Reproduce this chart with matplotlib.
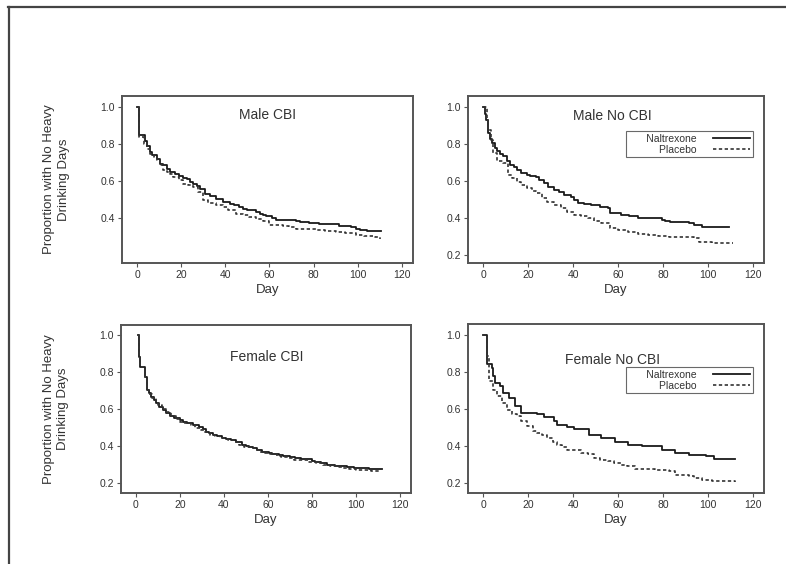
import matplotlib
matplotlib.use("Agg")
import matplotlib.pyplot as plt
from matplotlib.lines import Line2D

plt.rcParams['font.family'] = ['Liberation Sans', 'DejaVu Sans']

# Kaplan-Meier style step curves: (day, proportion) pairs
male_cbi_nal_day = [0, 1, 3.6, 4.5, 5.8, 7, 8.9, 10.4, 11.8, 13.5, 14.9, 17, 19, 20.9, 22.5, 23.9, 25.4, 27, 28.5,
                    30.7, 33, 35.9, 38.9, 41.9, 44, 46, 48, 50, 52, 54, 55.5, 57, 58.5, 61, 63, 72, 74, 78, 82.5,
                    86, 91.6, 94, 97, 99, 101, 104, 110.4]
male_cbi_nal_val = [1.0, 0.85, 0.82, 0.79, 0.758, 0.74, 0.723, 0.696, 0.686, 0.668, 0.65, 0.638, 0.628, 0.62, 0.61,
                    0.596, 0.587, 0.575, 0.56, 0.533, 0.52, 0.507, 0.488, 0.48, 0.47, 0.46, 0.452, 0.447, 0.443,
                    0.435, 0.425, 0.42, 0.413, 0.403, 0.393, 0.386, 0.38, 0.376, 0.371, 0.368, 0.362, 0.358, 0.352,
                    0.344, 0.34, 0.335, 0.335]
male_cbi_pla_day = [0, 1, 3, 4.5, 5.8, 7.5, 8.9, 10.5, 11.9, 13.5, 14.8, 16.5, 19, 20.9, 23, 25.4, 27.5, 29.9, 32,
                    35.9, 38.9, 41, 44.9, 48, 50.9, 54, 57, 60, 66, 69, 72, 76, 81, 85, 90, 94, 99, 103, 108, 110]
male_cbi_pla_val = [1.0, 0.84, 0.80, 0.775, 0.75, 0.73, 0.715, 0.69, 0.66, 0.65, 0.641, 0.625, 0.605, 0.588, 0.578,
                    0.569, 0.54, 0.497, 0.485, 0.47, 0.461, 0.445, 0.425, 0.416, 0.407, 0.397, 0.389, 0.366, 0.362,
                    0.353, 0.344, 0.342, 0.339, 0.333, 0.326, 0.32, 0.313, 0.306, 0.299, 0.292]

male_no_nal_day = [0, 0.75, 1.2, 2.25, 3, 3.75, 5, 6, 7.5, 9, 10.5, 12, 13.5, 15, 17, 19.5, 21, 23.3, 25, 27, 29,
                   31.5, 33.5, 36, 39, 40.5, 42, 45, 48, 52, 55.5, 56.3, 59, 61.5, 65, 69, 79.5, 81, 83.3, 88,
                   91.5, 94, 97.5, 100.5, 109.5]
male_no_nal_val = [1.0, 0.96, 0.93, 0.86, 0.83, 0.805, 0.78, 0.76, 0.745, 0.733, 0.71, 0.688, 0.675, 0.66, 0.645,
                   0.633, 0.628, 0.62, 0.605, 0.588, 0.57, 0.552, 0.54, 0.525, 0.512, 0.498, 0.48, 0.476, 0.471,
                   0.462, 0.453, 0.43, 0.425, 0.417, 0.41, 0.399, 0.392, 0.386, 0.38, 0.376, 0.372, 0.365, 0.354,
                   0.35, 0.35]
male_no_pla_day = [0, 1.5, 2.25, 3.3, 4.5, 6, 9, 10.8, 13, 15, 17, 19.5, 21.5, 23.3, 26, 28.5, 31.5, 34.5, 37.5,
                   40.5, 43.5, 46.5, 49.5, 52.5, 56.3, 60, 64.5, 69, 73.5, 78, 82.5, 88, 93.8, 96, 102, 111]
male_no_pla_val = [1.0, 0.93, 0.877, 0.823, 0.75, 0.706, 0.697, 0.633, 0.615, 0.597, 0.58, 0.561, 0.548, 0.534,
                   0.51, 0.489, 0.47, 0.453, 0.435, 0.417, 0.41, 0.399, 0.385, 0.372, 0.344, 0.335, 0.326, 0.316,
                   0.308, 0.304, 0.30, 0.295, 0.29, 0.272, 0.267, 0.267]

female_cbi_nal_day = [1, 1.5, 1.8, 4, 4.8, 6, 7, 8.3, 9.3, 10.5, 12.3, 13.5, 15.3, 17.5, 19.8, 21.3, 23, 24.3, 26,
                      28.8, 30.3, 32, 33.3, 35, 37, 39.3, 41, 43, 45.3, 48.3, 50, 51.3, 53, 55, 57.3, 60.3, 62,
                      64.8, 67, 70, 72.3, 75, 79.8, 81.3, 84.3, 87, 90.3, 93, 96, 99.3, 102.3, 106, 112]
female_cbi_nal_val = [1.0, 0.883, 0.826, 0.775, 0.703, 0.685, 0.667, 0.648, 0.631, 0.613, 0.595, 0.578, 0.563,
                      0.552, 0.541, 0.531, 0.527, 0.523, 0.515, 0.505, 0.49, 0.478, 0.469, 0.462, 0.455, 0.444,
                      0.44, 0.432, 0.424, 0.405, 0.4, 0.397, 0.388, 0.38, 0.37, 0.362, 0.358, 0.352, 0.345, 0.34,
                      0.334, 0.328, 0.32, 0.315, 0.308, 0.3, 0.293, 0.29, 0.288, 0.283, 0.28, 0.275, 0.275]
female_cbi_pla_day = [1, 1.5, 1.8, 4, 4.8, 6, 7.5, 9, 10, 12, 13.8, 15.8, 18, 20, 22, 24.8, 27, 29.5, 31, 33.8,
                      36, 38, 40, 42, 44.5, 47, 49, 52, 54, 56, 58.5, 61, 64, 66, 69, 72, 75, 78, 82, 85, 88, 91,
                      94, 97, 100, 103, 107, 111]
female_cbi_pla_val = [1.0, 0.883, 0.826, 0.775, 0.703, 0.683, 0.66, 0.64, 0.622, 0.6, 0.583, 0.56, 0.546, 0.532,
                      0.522, 0.513, 0.5, 0.487, 0.478, 0.462, 0.452, 0.445, 0.436, 0.43, 0.42, 0.408, 0.396, 0.388,
                      0.378, 0.37, 0.362, 0.355, 0.348, 0.342, 0.334, 0.326, 0.322, 0.315, 0.307, 0.3, 0.292,
                      0.284, 0.28, 0.275, 0.272, 0.268, 0.265, 0.263]

female_no_nal_day = [0, 1.5, 3.75, 4.5, 5.25, 7.5, 9, 11.25, 14.25, 17, 24, 27, 31.5, 33, 37.5, 40.5, 47.3, 52.5,
                     58.5, 64.5, 70.5, 79.5, 85.5, 91.5, 99, 102.8, 112]
female_no_nal_val = [1.0, 0.845, 0.823, 0.778, 0.742, 0.724, 0.688, 0.66, 0.615, 0.579, 0.576, 0.56, 0.534, 0.516,
                     0.503, 0.492, 0.462, 0.444, 0.42, 0.408, 0.399, 0.381, 0.363, 0.354, 0.345, 0.33, 0.33]
female_no_pla_day = [0, 1.5, 2.5, 4.5, 6, 8.25, 10.5, 13, 15, 17, 19.5, 22, 24, 26, 28.5, 31, 33, 35, 37.5, 43.5,
                     46.5, 49.5, 52, 55.5, 58, 61.5, 64, 67.5, 76.5, 82.5, 85.5, 91.5, 94, 97.5, 102, 112]
female_no_pla_val = [1.0, 0.886, 0.751, 0.706, 0.67, 0.633, 0.597, 0.575, 0.561, 0.535, 0.507, 0.48, 0.471, 0.462,
                     0.444, 0.425, 0.408, 0.395, 0.381, 0.363, 0.359, 0.335, 0.326, 0.317, 0.31, 0.299, 0.29,
                     0.276, 0.269, 0.263, 0.242, 0.236, 0.228, 0.218, 0.209, 0.205]

panel_titles = ["Male CBI", "Male No CBI", "Female CBI", "Female No CBI"]
series_labels = ["      Naltrexone", "        Placebo"]
x_ticks = [0, 20, 40, 60, 80, 100, 120]
y_ticks_full = [0.2, 0.4, 0.6, 0.8, 1.0]
y_ticks_short = [0.4, 0.6, 0.8, 1.0]
ylabel_text = "Proportion with No Heavy\nDrinking Days"

fig = plt.figure(figsize=(7.86, 5.64), dpi=100)

W, H = 786, 564


def place(x0, y_top, x1, y_bot):
    return [x0 / W, 1 - y_bot / H, (x1 - x0) / W, (y_bot - y_top) / H]


panels = [
    dict(rect=place(122, 96, 413, 263), ylim=(0.16, 1.06), yticks=y_ticks_short,
         nal=(male_cbi_nal_day, male_cbi_nal_val), pla=(male_cbi_pla_day, male_cbi_pla_val),
         title_xy=(0.50, 0.886), ylabel=True, legend=None),
    dict(rect=place(468, 96, 764, 263), ylim=(0.157, 1.06), yticks=y_ticks_full,
         nal=(male_no_nal_day, male_no_nal_val), pla=(male_no_pla_day, male_no_pla_val),
         title_xy=(0.487, 0.88), ylabel=False, legend=(0.963, 0.79)),
    dict(rect=place(121, 325, 411, 493), ylim=(0.146, 1.054), yticks=y_ticks_full,
         nal=(female_cbi_nal_day, female_cbi_nal_val), pla=(female_cbi_pla_day, female_cbi_pla_val),
         title_xy=(0.503, 0.81), ylabel=True, legend=None),
    dict(rect=place(468, 324, 764, 493), ylim=(0.146, 1.062), yticks=y_ticks_full,
         nal=(female_no_nal_day, female_no_nal_val), pla=(female_no_pla_day, female_no_pla_val),
         title_xy=(0.49, 0.787), ylabel=False, legend=(0.963, 0.746)),
]

spine_col = "#555555"
text_col = "#333333"

for p, title in zip(panels, panel_titles):
    ax = fig.add_axes(p["rect"])
    ax.step(p["nal"][0], p["nal"][1], where="post", color="#1a1a1a", lw=1.3,
            label=series_labels[0])
    ax.step(p["pla"][0], p["pla"][1], where="post", color="#333333", lw=1.2,
            linestyle=(0, (2.0, 1.5)), label=series_labels[1])
    ax.set_xlim(-6.8, 125)
    ax.set_ylim(*p["ylim"])
    ax.set_xticks(x_ticks)
    ax.set_yticks(p["yticks"])
    ax.set_yticklabels([f"{v:.1f}" for v in p["yticks"]])
    for s in ax.spines.values():
        s.set_color(spine_col)
        s.set_linewidth(1.4)
    ax.tick_params(direction="out", length=3, width=0.8, color=spine_col,
                   labelsize=7.5, labelcolor=text_col, pad=2)
    ax.set_xlabel("Day", fontsize=9.5, color=text_col, labelpad=3)
    if p["ylabel"]:
        ax.set_ylabel(ylabel_text, fontsize=9.5, color=text_col, linespacing=1.25)
        ax.yaxis.set_label_coords(-0.18, 0.5)
    ax.text(p["title_xy"][0], p["title_xy"][1], title, transform=ax.transAxes,
            ha="center", va="center", fontsize=10, color=text_col)
    if p["legend"] is not None:
        leg = ax.legend(loc="upper right", bbox_to_anchor=p["legend"], borderaxespad=0,
                        markerfirst=False, fancybox=False, fontsize=7.5,
                        handlelength=3.6, handletextpad=1.6, labelspacing=0.1,
                        borderpad=0.25, frameon=True)
        leg.get_frame().set_edgecolor("#444444")
        leg.get_frame().set_linewidth(0.8)
        for t in leg.get_texts():
            t.set_color(text_col)

# page frame lines along the top and left edges
fig.add_artist(Line2D([8 / W, 1.0], [1 - 6.5 / H, 1 - 6.5 / H], transform=fig.transFigure,
                      color="#444444", lw=1.6))
fig.add_artist(Line2D([8.5 / W, 8.5 / W], [0, 1 - 6.5 / H], transform=fig.transFigure,
                      color="#444444", lw=1.6))

fig.savefig("out.png", dpi=100, facecolor="white")
